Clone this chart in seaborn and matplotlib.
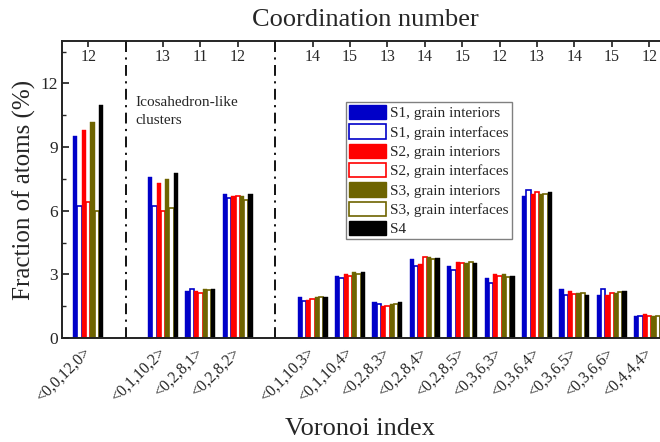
import numpy as np
import pandas as pd
import matplotlib
matplotlib.use("Agg")
import matplotlib.pyplot as plt
from matplotlib.patches import Patch
import seaborn as sns

# Voronoi indices, grouped: single <0,0,12,0>, icosahedron-like, others
group_sizes = [1, 3, 10]
voronoi = ["<0,0,12,0>",
           "<0,1,10,2>", "<0,2,8,1>", "<0,2,8,2>",
           "<0,1,10,3>", "<0,1,10,4>", "<0,2,8,3>", "<0,2,8,4>", "<0,2,8,5>",
           "<0,3,6,3>", "<0,3,6,4>", "<0,3,6,5>", "<0,3,6,6>", "<0,4,4,4>"]
coord_numbers = [12, 13, 11, 12, 14, 15, 13, 14, 15, 12, 13, 14, 15, 12]

series = ["S1, grain interiors", "S1, grain interfaces",
          "S2, grain interiors", "S2, grain interfaces",
          "S3, grain interiors", "S3, grain interfaces",
          "S4"]

s1_interior = [9.5, 7.6, 2.22, 6.8, 1.92, 2.93, 1.72, 3.71, 3.4, 2.82, 6.7, 2.32, 2.02, 1.03]
s1_interface = [6.2, 6.2, 2.33, 6.62, 1.74, 2.82, 1.61, 3.4, 3.21, 2.61, 7.0, 2.05, 2.32, 1.06]
s2_interior = [9.8, 7.3, 2.2, 6.68, 1.81, 3.04, 1.52, 3.5, 3.6, 3.0, 6.78, 2.22, 2.02, 1.13]
s2_interface = [6.4, 6.0, 2.11, 6.71, 1.85, 2.91, 1.52, 3.83, 3.54, 2.91, 6.9, 2.08, 2.13, 1.05]
s3_interior = [10.2, 7.5, 2.31, 6.7, 1.92, 3.11, 1.61, 3.8, 3.52, 3.0, 6.81, 2.12, 2.13, 1.03]
s3_interface = [6.0, 6.12, 2.24, 6.49, 1.91, 3.02, 1.61, 3.71, 3.58, 2.86, 6.78, 2.12, 2.17, 1.03]
s4 = [11.0, 7.8, 2.31, 6.81, 1.94, 3.11, 1.68, 3.76, 3.54, 2.93, 6.89, 2.02, 2.22, 1.0]

values = [s1_interior, s1_interface, s2_interior, s2_interface,
          s3_interior, s3_interface, s4]

BLUE, RED, OLIVE = "#0000C8", "#FF0000", "#6E6400"
colors = [BLUE, BLUE, RED, RED, OLIVE, OLIVE, "#000000"]
hollow = [False, True, False, True, False, True, False]

# x positions: one empty slot between groups
positions, gaps, start = [], [], 0
for size in group_sizes:
    positions += list(range(start, start + size))
    start += size
    gaps.append(start)
    start += 1
gaps = gaps[:-1]

df = pd.DataFrame({
    "pos": np.tile(positions, len(series)),
    "value": np.concatenate(values),
    "series": np.repeat(series, len(positions)),
})

sns.set_theme(style="ticks")
plt.rcParams["font.family"] = ["Liberation Serif", "DejaVu Serif"]

fig = plt.figure(figsize=(6.6, 4.42), dpi=100)
ax = fig.add_axes([62 / 660, 1 - 338 / 442, 1 - 62 / 660, (338 - 41) / 442])

sns.barplot(data=df, x="pos", y="value", hue="series", hue_order=series,
            palette=colors, native_scale=True, width=0.8, errorbar=None,
            legend=False, ax=ax)

for container, col, is_hollow in zip(ax.containers, colors, hollow):
    for bar in container:
        if is_hollow:
            bar.set_facecolor("white")
            bar.set_edgecolor(col)
            bar.set_linewidth(1.2)
        else:
            bar.set_facecolor(col)
            bar.set_edgecolor(col)
            bar.set_linewidth(0.3)

for g in gaps:
    ax.axvline(g, color="black", lw=1.3, ls=(0, (6, 3, 1.2, 3)), zorder=0)

ax.set_xlim(-0.7, 15.29)
ax.set_ylim(0, 14)
ax.set_yticks([0, 3, 6, 9, 12])
ax.set_yticks(np.arange(1.5, 14, 3), minor=True)
ax.set_xticks(positions)
ax.set_xticklabels(voronoi, rotation=45, ha="right", va="center",
                   rotation_mode="anchor", fontsize=11.5)
ax.tick_params(axis="x", direction="in", length=3, color="gray", pad=9)
ax.tick_params(axis="y", which="major", direction="in", length=5,
               labelsize=12.5, pad=3)
ax.tick_params(axis="y", which="minor", direction="in", length=3)
ax.set_xlabel("")
ax.set_ylabel("Fraction of atoms (%)", fontsize=18, labelpad=3)
for side in ["left", "bottom", "top"]:
    ax.spines[side].set_linewidth(1.1)
    ax.spines[side].set_color("black")
ax.spines["right"].set_visible(False)

top = ax.twiny()
top.set_xlim(ax.get_xlim())
top.set_xticks(positions)
top.set_xticklabels([str(c) for c in coord_numbers], fontsize=11.5)
top.tick_params(axis="x", direction="in", length=4, pad=-17)
top.spines["right"].set_visible(False)
top.spines["top"].set_linewidth(1.1)

ax.text(1.27, 11.4, "Icosahedron-like\nclusters", fontsize=11,
        ha="left", va="top", linespacing=1.5)

fig.text(365 / 660, 1 - 20 / 442, "Coordination number", fontsize=19,
         ha="center", va="center")
fig.text(360 / 660, 1 - 429 / 442, "Voronoi index", fontsize=19,
         ha="center", va="center")

handles = []
for col, is_hollow in zip(colors, hollow):
    if is_hollow:
        handles.append(Patch(facecolor="white", edgecolor=col, linewidth=1.2))
    else:
        handles.append(Patch(facecolor=col, edgecolor=col))
leg = ax.legend(handles, series, loc="upper left",
                bbox_to_anchor=(346 / 660, 1 - 102 / 442),
                bbox_transform=fig.transFigure, fontsize=11,
                handlelength=2.4, handleheight=1.05, handletextpad=0.3,
                labelspacing=0.265, borderpad=0.2, borderaxespad=0,
                fancybox=False, framealpha=1)
leg.get_frame().set_edgecolor("gray")
leg.get_frame().set_linewidth(1.0)

fig.savefig("out.png", dpi=100)
